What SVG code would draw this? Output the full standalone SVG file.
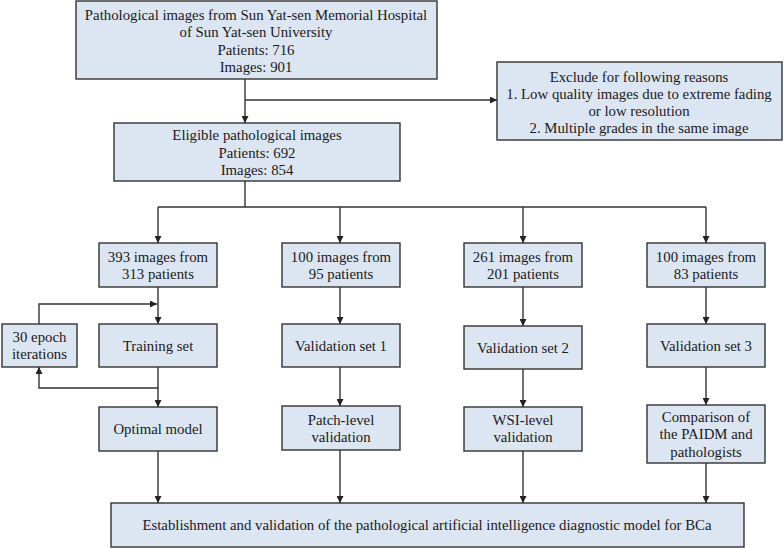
<svg xmlns="http://www.w3.org/2000/svg" width="784" height="548" viewBox="0 0 784 548">
<defs>
<marker id="ah" viewBox="0 0 10 10" refX="10" refY="5" markerWidth="7" markerHeight="7" markerUnits="userSpaceOnUse" orient="auto">
<path d="M0,0 L10,5 L0,10 z" fill="#222"/>
</marker>
<style>
.box{fill:#dce6f2;stroke:#333;stroke-width:1.4}
.t{font-family:"Liberation Serif","Times New Roman",serif;font-size:14.8px;fill:#1a1a1a;text-anchor:middle}
.c{fill:none;stroke:#333;stroke-width:1.4}
.a{fill:none;stroke:#333;stroke-width:1.4;marker-end:url(#ah)}
</style>
</defs>
<rect width="784" height="548" fill="#fff"/>
<g id="connectors">
<path class="a" d="M245,79 V123"/>
<path class="a" d="M245,100 H497"/>
<path class="c" d="M245,181 V207"/>
<path class="c" d="M158,207 H706"/>
<path class="a" d="M158,207 V243"/>
<path class="a" d="M340,207 V243"/>
<path class="a" d="M523,207 V243"/>
<path class="a" d="M706,207 V243"/>
<path class="a" d="M158,287 V324"/>
<path class="a" d="M340,287 V324"/>
<path class="a" d="M523,287 V326"/>
<path class="a" d="M706,287 V324"/>
<path class="a" d="M39,324 V304 H157"/>
<path class="a" d="M158,367 V388 H39 V367"/>
<path class="a" d="M158,388 V407"/>
<path class="a" d="M340,367 V406"/>
<path class="a" d="M523,369 V407"/>
<path class="a" d="M706,367 V405"/>
<path class="a" d="M158,451 V503"/>
<path class="a" d="M340,450 V503"/>
<path class="a" d="M523,451 V503"/>
<path class="a" d="M706,463 V503"/>
</g>
<g id="source">
<rect class="box" x="76" y="1" width="361" height="78"/>
<text class="t" x="256" y="20">Pathological images from Sun Yat-sen Memorial Hospital</text>
<text class="t" x="256" y="37">of Sun Yat-sen University</text>
<text class="t" x="256" y="55">Patients: 716</text>
<text class="t" x="256" y="72">Images: 901</text>
</g>
<g id="exclude">
<rect class="box" x="497" y="62" width="285" height="78"/>
<text class="t" x="639" y="82">Exclude for following reasons</text>
<text class="t" x="639" y="99">1. Low quality images due to extreme fading</text>
<text class="t" x="639" y="116">or low resolution</text>
<text class="t" x="639" y="133">2. Multiple grades in the same image</text>
</g>
<g id="eligible">
<rect class="box" x="114" y="123" width="286" height="58"/>
<text class="t" x="257" y="140">Eligible pathological images</text>
<text class="t" x="257" y="158">Patients: 692</text>
<text class="t" x="257" y="175">Images: 854</text>
</g>
<g id="set393">
<rect class="box" x="99" y="243" width="118" height="44"/>
<text class="t" x="158" y="262">393 images from</text>
<text class="t" x="158" y="279">313 patients</text>
</g>
<g id="set100a">
<rect class="box" x="282" y="243" width="118" height="44"/>
<text class="t" x="341" y="262">100 images from</text>
<text class="t" x="341" y="279">95 patients</text>
</g>
<g id="set261">
<rect class="box" x="464" y="243" width="118" height="44"/>
<text class="t" x="523" y="262">261 images from</text>
<text class="t" x="523" y="279">201 patients</text>
</g>
<g id="set100b">
<rect class="box" x="647" y="243" width="118" height="44"/>
<text class="t" x="706" y="262">100 images from</text>
<text class="t" x="706" y="279">83 patients</text>
</g>
<g id="epoch">
<rect class="box" x="2" y="324" width="75" height="43"/>
<text class="t" x="39.5" y="342">30 epoch</text>
<text class="t" x="39.5" y="359">iterations</text>
</g>
<g id="training">
<rect class="box" x="99" y="324" width="118" height="43"/>
<text class="t" x="158" y="351">Training set</text>
</g>
<g id="val1">
<rect class="box" x="282" y="324" width="118" height="43"/>
<text class="t" x="341" y="351">Validation set 1</text>
</g>
<g id="val2">
<rect class="box" x="464" y="326" width="118" height="43"/>
<text class="t" x="523" y="353">Validation set 2</text>
</g>
<g id="val3">
<rect class="box" x="647" y="324" width="118" height="43"/>
<text class="t" x="706" y="351">Validation set 3</text>
</g>
<g id="optimal">
<rect class="box" x="99" y="407" width="118" height="44"/>
<text class="t" x="158" y="434">Optimal model</text>
</g>
<g id="patch">
<rect class="box" x="282" y="406" width="118" height="44"/>
<text class="t" x="341" y="425">Patch-level</text>
<text class="t" x="341" y="442">validation</text>
</g>
<g id="wsi">
<rect class="box" x="464" y="407" width="118" height="44"/>
<text class="t" x="523" y="425">WSI-level</text>
<text class="t" x="523" y="442">validation</text>
</g>
<g id="comparison">
<rect class="box" x="647" y="405" width="118" height="58"/>
<text class="t" x="706" y="422">Comparison of</text>
<text class="t" x="706" y="439">the PAIDM and</text>
<text class="t" x="706" y="457">pathologists</text>
</g>
<g id="final">
<rect class="box" x="111" y="503" width="633" height="44"/>
<text class="t" x="427" y="530">Establishment and validation of the pathological artificial intelligence diagnostic model for BCa</text>
</g>
</svg>
